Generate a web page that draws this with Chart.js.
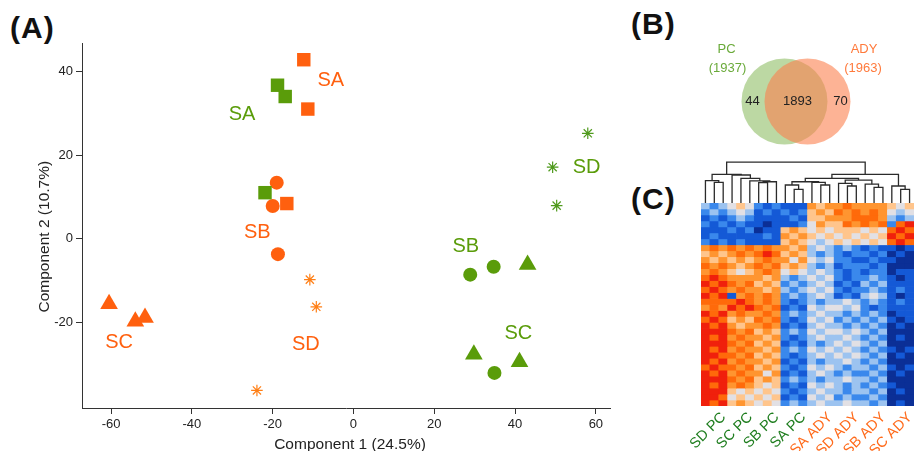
<!DOCTYPE html>
<html>
<head>
<meta charset="utf-8">
<script src="https://cdn.jsdelivr.net/npm/chart.js@4.4.1/dist/chart.umd.min.js"></script>
<style>
  body { margin:0; background:#fff; width:914px; height:451px; overflow:hidden; position:relative; }
  canvas { position:absolute; }
  .panel { position:absolute; font:bold 30px "Liberation Sans", Arial, sans-serif; line-height:30px; color:#111; letter-spacing:1px; }
</style>
</head>
<body>
<div class="panel" style="left:10px;top:13px">(A)</div>
<div class="panel" style="left:631px;top:9px">(B)</div>
<div class="panel" style="left:631px;top:184px">(C)</div>
<canvas id="pca" width="620" height="451" style="left:0;top:0"></canvas>
<canvas id="venn" width="200" height="133" style="left:700px;top:35px"></canvas>
<canvas id="dendro" width="234" height="45" style="left:680px;top:158px"></canvas>
<canvas id="heat" width="234" height="248" style="left:680px;top:203px"></canvas>
<script>
// ---- (A) PCA scores ----
const pcSA = [{x:-18.8,y:36.7},{x:-16.9,y:34.0},{x:-21.9,y:11.0}];
const pcSB = [{x:28.9,y:-8.6},{x:34.7,y:-6.7},{x:34.9,y:-32.1}];
const pcSC = [{x:43.1,y:-6.2},{x:29.8,y:-27.7},{x:41.1,y:-29.5}];
const pcSD = [{x:58.0,y:25.2},{x:49.3,y:17.1},{x:50.3,y:7.9}];
const adySA = [{x:-12.3,y:42.8},{x:-11.3,y:31.0},{x:-16.5,y:8.4}];
const adySB = [{x:-19.0,y:13.4},{x:-20.0,y:7.8},{x:-18.7,y:-3.7}];
const adySC = [{x:-60.5,y:-15.6},{x:-54.0,y:-19.8},{x:-51.6,y:-18.9}];
const adySD = [{x:-10.8,y:-9.8},{x:-9.2,y:-16.3},{x:-23.9,y:-36.3}];
const xTicks = [-60,-40,-20,0,20,40,60];
const yTicks = [-20,0,20,40];

// ---- (B) Venn ----
const vennSets = ['PC','ADY'];
const vennTotals = [1937,1963];
const vennCounts = [44,1893,70];

// ---- (C) heatmap ----
const heatGroups = ['SD PC','SC PC','SB PC','SA PC','SA ADY','SD ADY','SB ADY','SC ADY'];
// one string per row band, one digit per sample column (0 = low / blue ... 8 = high / red)
const heatRows = [
  "323454212111656676666545","232343121212565767676434","121232111121556667776323",
  "212121101112465576767278","111212011565454555454787","121111121656545454545878",
  "212121111565434545454787","676767676656343232121101","565676787565323212212010",
  "656565676646434221121100","767656767565323122212000","676545676454343212122011",
  "787666656323434212232101","878767565232343121323111","787676656323434212232121",
  "878167676232343121343101","777787676212323343232121","676878767121434434212111",
  "878676676232343323232011","787565767212434232323101","878656676121343323232010",
  "888767565232434434323000","878676656212343343232010","888767565121323434323000",
  "878676656232434343232101","887767565212343434323010","878676656121323343232000",
  "787767565212434323323101","878676646121343232232010","888767565232323343323000",
  "878676545121434323232100","888545454212343323323010","887454545121434232232000",
  "878565454232343343323010"
];
// dendrogram merges: [a, b, height]; a,b < 24 are columns, >= 24 are earlier merges (24 + index)
const dendroMerges = [
  [1,2,5.06],[0,24,5.45],[6,7,5.0],[26,8,5.2],[5,27,5.4],[4,28,6.0],[3,29,6.85],[25,30,7.0],
  [10,11,3.35],[9,32,4.4],[13,14,4.4],[12,34,5.06],[33,35,5.2],[16,17,4.15],[15,37,4.8],
  [19,20,3.8],[18,39,4.6],[38,40,5.6],[36,41,6.0],[22,23,3.35],[21,43,4.15],[42,44,7.0],[31,45,10]
];

const FONT = '"Liberation Sans", Arial, sans-serif';
const ORANGE = '#ff600f';
const GREEN = '#5a9c0a';
Chart.defaults.font.family = FONT;
Chart.defaults.animation = false;
Chart.defaults.events = [];
Chart.defaults.plugins.legend.display = false;
Chart.defaults.plugins.tooltip.enabled = false;

const groupLabels = [
  {t:'SA', x:-5.6, y:37.8, c:ORANGE}, {t:'SA', x:-27.6, y:29.6, c:GREEN},
  {t:'SB', x:-23.8, y:1.4, c:ORANGE}, {t:'SC', x:-58.0, y:-24.8, c:ORANGE},
  {t:'SD', x:-11.8, y:-25.3, c:ORANGE}, {t:'SB', x:27.8, y:-1.9, c:GREEN},
  {t:'SC', x:40.8, y:-22.7, c:GREEN}, {t:'SD', x:57.7, y:17.1, c:GREEN}
];

function ds(data, color, style, r) {
  const star = style === 'star';
  return { data, pointStyle: style, pointRadius: r, backgroundColor: color,
    borderColor: color, borderWidth: star ? 1.2 : 0 };
}

const pcaText = {
  id: 'pcaText',
  afterDatasetsDraw(chart) {
    const {ctx, scales:{x, y}, chartArea:a} = chart;
    ctx.save();
    ctx.textAlign = 'center'; ctx.textBaseline = 'middle';
    ctx.font = '20px ' + FONT;
    groupLabels.forEach(l => { ctx.fillStyle = l.c; ctx.fillText(l.t, x.getPixelForValue(l.x), y.getPixelForValue(l.y)); });
    ctx.fillStyle = '#222';
    ctx.font = '15.5px ' + FONT;
    ctx.textBaseline = 'alphabetic';
    ctx.fillText('Component 1 (24.5%)', (a.left + a.right) / 2 + 4, 448.5);
    ctx.translate(49, 236.7);
    ctx.rotate(-Math.PI / 2);
    ctx.fillText('Component 2 (10.7%)', 0, 0);
    ctx.restore();
  }
};

const axisStyle = {
  grid: { drawOnChartArea: false, tickLength: 6, color: '#333' },
  border: { color: '#333', width: 1 },
  ticks: { font: { size: 13 }, color: '#222', padding: 3, maxRotation: 0 }
};

new Chart(document.getElementById('pca'), {
  type: 'scatter',
  data: { datasets: [
    ds(pcSA, GREEN, 'rect', 9.5), ds(adySA, ORANGE, 'rect', 9.5),
    ds(pcSB, GREEN, 'circle', 7), ds(adySB, ORANGE, 'circle', 7),
    ds(pcSC, GREEN, 'triangle', 10.2), ds(adySC, ORANGE, 'triangle', 10.2),
    ds(pcSD, '#4f9a1c', 'star', 5.8), ds(adySD, '#ff7f16', 'star', 5.8)
  ]},
  options: {
    responsive: false,
    layout: { autoPadding: false, padding: { top: 43, right: 10, left: 0, bottom: 0 } },
    scales: {
      x: { type: 'linear', min: -67.2, max: 63.5, ...axisStyle,
        afterBuildTicks: s => { s.ticks = xTicks.map(v => ({ value: v })); },
        afterFit: s => { s.height = 43; } },
      y: { type: 'linear', min: -40.5, max: 46.8, ...axisStyle,
        afterBuildTicks: s => { s.ticks = yTicks.map(v => ({ value: v })); },
        afterFit: s => { s.width = 82; } }
    }
  },
  plugins: [pcaText]
});

// ---- Venn ----
const vennText = {
  id: 'vennText',
  afterDatasetsDraw(chart) {
    const {ctx, scales:{x, y}} = chart;
    const g = x.getPixelForValue(0), o = x.getPixelForValue(1), cy = y.getPixelForValue(0);
    ctx.save();
    ctx.textAlign = 'center'; ctx.textBaseline = 'middle';
    ctx.font = '13px ' + FONT;
    ctx.fillStyle = '#222';
    ctx.fillText(String(vennCounts[0]), g - 32, cy);
    ctx.fillText(String(vennCounts[1]), (g + o) / 2 + 1.5, cy);
    ctx.fillText(String(vennCounts[2]), o + 33, cy);
    ctx.fillStyle = '#6aaa3a';
    ctx.fillText(vennSets[0], g - 58, cy - 52.5);
    ctx.fillText('(' + vennTotals[0] + ')', g - 57, cy - 33.5);
    ctx.fillStyle = '#ff7a3c';
    ctx.fillText(vennSets[1], o + 56.5, cy - 52.5);
    ctx.fillText('(' + vennTotals[1] + ')', o + 55.5, cy - 33.5);
    ctx.restore();
  }
};

// datasets listed first are drawn on top, so the ADY circle comes first
new Chart(document.getElementById('venn'), {
  type: 'bubble',
  data: { datasets: [
    { data: [{ x: 1, y: 0, r: 43 }], backgroundColor: 'rgba(252,128,78,0.6)', borderWidth: 0, clip: false },
    { data: [{ x: 0, y: 0, r: 43 }], backgroundColor: 'rgba(122,178,72,0.5)', borderWidth: 0, clip: false }
  ]},
  options: {
    responsive: false,
    layout: { autoPadding: false, padding: 0 },
    scales: {
      x: { display: false, min: -3.674, max: 5.022 },
      y: { display: false, min: -1, max: 1 }
    }
  },
  plugins: [vennText]
});

// ---- dendrogram ----
const nodeX = [], nodeH = [];
for (let i = 0; i < 24; i++) { nodeX.push(i); nodeH.push(0); }
const dendroSets = dendroMerges.map(([a, b, h]) => {
  nodeX.push((nodeX[a] + nodeX[b]) / 2); nodeH.push(h);
  return { data: [{x: nodeX[a], y: nodeH[a]}, {x: nodeX[a], y: h}, {x: nodeX[b], y: h}, {x: nodeX[b], y: nodeH[b]}],
    showLine: true, pointRadius: 0, borderColor: '#2b2b2b', borderWidth: 1.3, clip: 4 };
});

new Chart(document.getElementById('dendro'), {
  type: 'scatter',
  data: { datasets: dendroSets },
  options: {
    responsive: false,
    layout: { autoPadding: false, padding: { left: 21 } },
    scales: {
      x: { display: false, min: -0.5, max: 23.5 },
      y: { display: false, min: 0, max: 11 }
    }
  }
});

// ---- heatmap ----
const palette = ['#0b2f96','#1459d6','#3a88ec','#9cc3f0','#e2e0e4','#ffc58c','#ff9530','#ff6a0a','#f0200c'];
const heatCols = heatGroups.flatMap(g => [g + ' 1', g + ' 2', g + ' 3']);
const heatSets = heatRows.map(row => ({
  data: row.split('').map(() => 1),
  backgroundColor: row.split('').map(d => palette[+d]),
  borderWidth: 0, barPercentage: 1, categoryPercentage: 1
}));

const heatText = {
  id: 'heatText',
  afterDatasetsDraw(chart) {
    const {ctx, scales:{x}, chartArea:a} = chart;
    ctx.save();
    ctx.font = '14.5px ' + FONT;
    ctx.textAlign = 'right'; ctx.textBaseline = 'middle';
    heatGroups.forEach((g, i) => {
      ctx.save();
      ctx.translate(x.getPixelForValue(i * 3 + 2) + 0.5, a.bottom + 9);
      ctx.rotate(-Math.PI / 4);
      ctx.fillStyle = g.endsWith('PC') ? '#1e7d1e' : '#ff6a1a';
      ctx.fillText(g, 0, 0);
      ctx.restore();
    });
    ctx.restore();
  }
};

new Chart(document.getElementById('heat'), {
  type: 'bar',
  data: { labels: heatCols, datasets: heatSets },
  options: {
    responsive: false,
    layout: { autoPadding: false, padding: { left: 21, bottom: 45 } },
    scales: {
      x: { display: false, stacked: true },
      y: { display: false, stacked: true, reverse: true, min: 0, max: heatRows.length }
    }
  },
  plugins: [heatText]
});
</script>
</body>
</html>
